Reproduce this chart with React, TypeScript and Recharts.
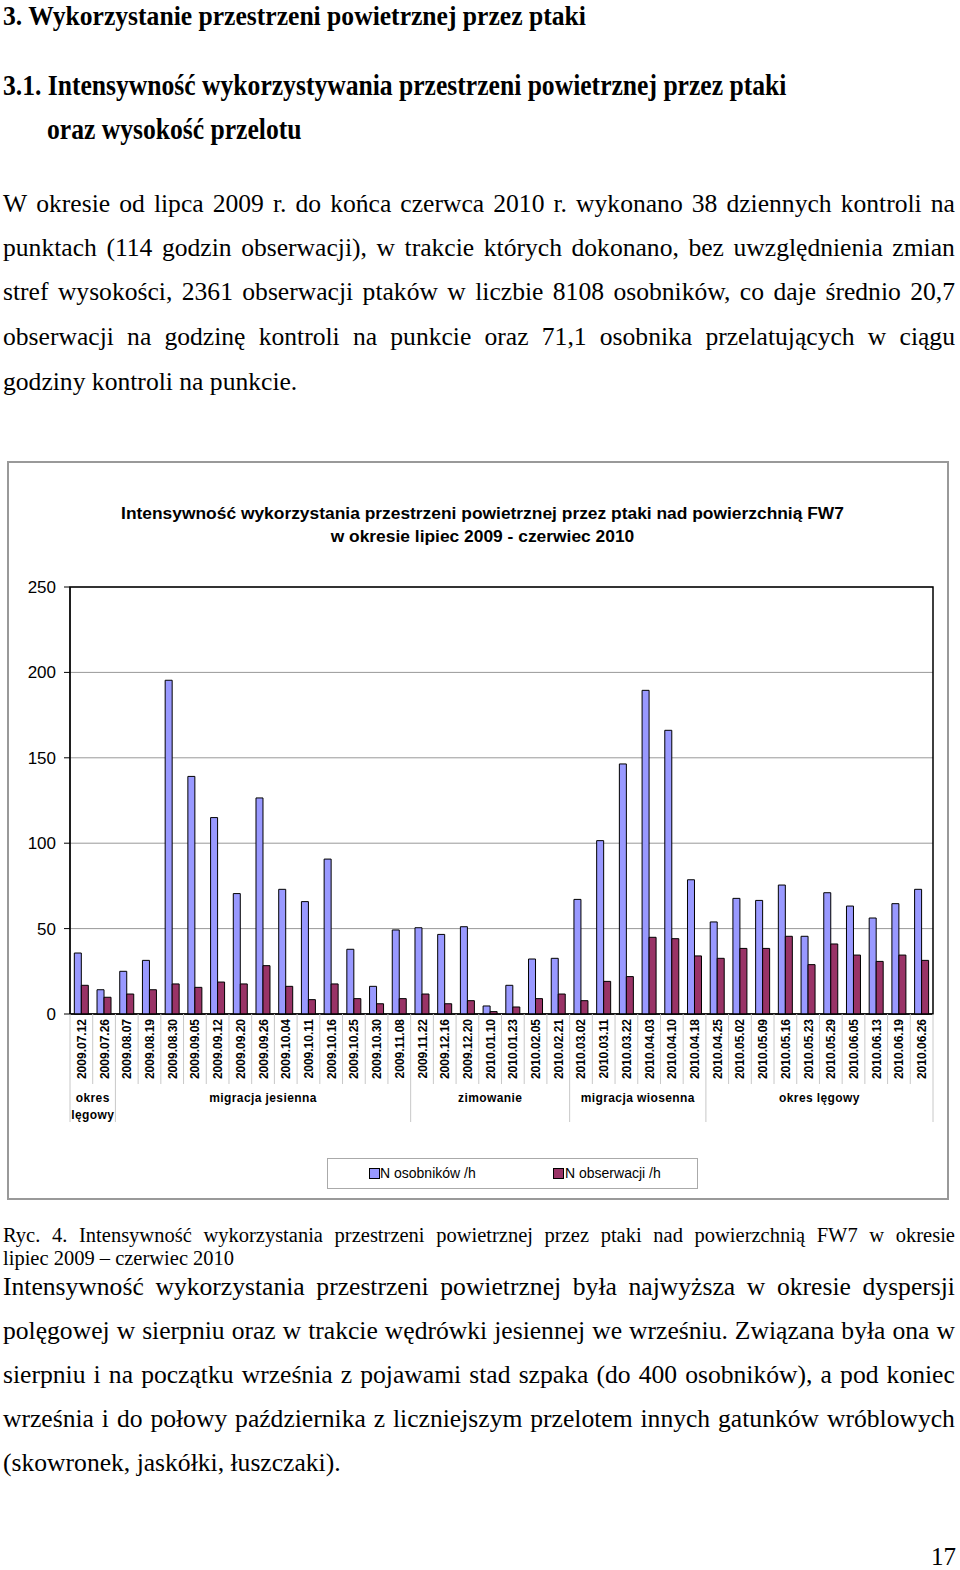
import { BarChart, Bar, XAxis, YAxis, CartesianGrid, ReferenceArea } from "recharts";

// kontrole (daty)
const dates = [
    "2009.07.12", "2009.07.26", "2009.08.07", "2009.08.19", "2009.08.30",
    "2009.09.05", "2009.09.12", "2009.09.20", "2009.09.26", "2009.10.04",
    "2009.10.11", "2009.10.16", "2009.10.25", "2009.10.30", "2009.11.08",
    "2009.11.22", "2009.12.16", "2009.12.20", "2010.01.10", "2010.01.23",
    "2010.02.05", "2010.02.21", "2010.03.02", "2010.03.11", "2010.03.22",
    "2010.04.03", "2010.04.10", "2010.04.18", "2010.04.25", "2010.05.02",
    "2010.05.09", "2010.05.16", "2010.05.23", "2010.05.29", "2010.06.05",
    "2010.06.13", "2010.06.19", "2010.06.26",
];

const osobnikow = [
    35.7, 14.2, 25.0, 31.4, 195.4, 139.1, 115.0, 70.5, 126.5, 73.0,
    65.8, 90.7, 37.9, 16.2, 49.2, 50.5, 46.6, 51.1, 4.7, 16.8,
    32.2, 32.6, 67.1, 101.5, 146.4, 189.5, 166.1, 78.6, 53.9, 67.7,
    66.5, 75.5, 45.5, 71.0, 63.2, 56.2, 64.6, 73.0,
];

const obserwacji = [
    16.8, 9.8, 11.7, 14.2, 17.6, 15.6, 18.7, 17.6, 28.3, 16.2,
    8.4, 17.6, 9.0, 6.0, 9.0, 11.7, 6.0, 7.8, 1.4, 4.1,
    9.0, 11.7, 7.8, 19.1, 21.9, 44.9, 44.1, 34.0, 32.6, 38.4,
    38.4, 45.5, 28.9, 41.0, 34.5, 30.8, 34.5, 31.4,
];

const periods = ["okres lęgowy", "migracja jesienna", "zimowanie", "migracja wiosenna", "okres lęgowy"];
const periodSizes = [2, 13, 7, 6, 10];

const yTicks = [0, 50, 100, 150, 200, 250];

const data = dates.map((d, i) => ({
    date: d,
    osobnikow: osobnikow[i],
    obserwacji: obserwacji[i],
}));

const PLOT_W = 863;
const BAND = PLOT_W / dates.length;
const SANS = "'Liberation Sans', Arial, sans-serif";
const SERIF = "'Liberation Serif', 'Times New Roman', serif";

const groupStarts: number[] = [];
periodSizes.reduce((acc, n) => {
    groupStarts.push(acc);
    return acc + n;
}, 0);

function DateTick(props: any) {
    const { x, y, payload } = props;
    const i = props.index ?? payload.index;
    const left = x - BAND / 2;
    const g = groupStarts.indexOf(i);
    const last = i === dates.length - 1;

    let label = null;
    if (g >= 0) {
        const cx = left + (periodSizes[g] * BAND) / 2;
        const words = periodSizes[g] < 4 ? periods[g].split(" ") : [periods[g]];
        label = words.map((w, k) => (
            <text
                key={k}
                x={cx}
                y={y + 88 + k * 17}
                textAnchor="middle"
                fontFamily={SANS}
                fontWeight="bold"
                fontSize={12}
                letterSpacing={0.4}
                fill="#000"
            >
                {w}
            </text>
        ));
    }

    return (
        <g>
            <line x1={left} y1={y} x2={left} y2={y + (g >= 0 ? 108 : 70)} stroke="#c8c8c8" />
            {last && <line x1={left + BAND} y1={y} x2={left + BAND} y2={y + 108} stroke="#c8c8c8" />}
            <text
                transform={`translate(${x + 4.5},${y + 5}) rotate(-90)`}
                textAnchor="end"
                fontFamily={SANS}
                fontWeight="bold"
                fontSize={12}
                fill="#000"
            >
                {payload.value}
            </text>
            {label}
        </g>
    );
}

function Words({ text, top, size, bold = false, left = 3, width = 952 }: any) {
    return (
        <div
            style={{
                position: "absolute",
                left,
                top,
                width,
                height: 30,
                lineHeight: "30px",
                fontSize: size,
                fontWeight: bold ? "bold" : "normal",
                display: "flex",
                justifyContent: "space-between",
                whiteSpace: "nowrap",
            }}
        >
            {text.split(" ").map((w: string, k: number) => (
                <span key={k}>{w}</span>
            ))}
        </div>
    );
}

function Plain({ text, top, size, bold = false, left = 3, stretch = 1, lh = 30, origin = "center" }: any) {
    return (
        <div
            style={{
                position: "absolute",
                left,
                top,
                height: lh,
                lineHeight: `${lh}px`,
                fontSize: size,
                fontWeight: bold ? "bold" : "normal",
                whiteSpace: "nowrap",
                transform: stretch !== 1 ? `scaleY(${stretch})` : undefined,
                transformOrigin: origin,
            }}
        >
            {text}
        </div>
    );
}

export default function App() {
    return (
        <div
            style={{
                position: "absolute",
                left: 0,
                top: 0,
                width: 960,
                height: 1570,
                background: "#fff",
                color: "#000",
                fontFamily: SERIF,
                overflow: "hidden",
            }}
        >
            <Plain text="3. Wykorzystanie przestrzeni powietrznej przez ptaki" top={1} lh={28} size={25.6} bold stretch={1.1} origin="top" />
            <Plain text="3.1. Intensywność wykorzystywania przestrzeni powietrznej przez ptaki" top={71} size={25.6} bold stretch={1.12} />
            <Plain text="oraz wysokość przelotu" top={115} size={25.6} bold left={47} stretch={1.12} />

            <Words top={189} size={25.6} text="W okresie od lipca 2009 r. do końca czerwca 2010 r. wykonano 38 dziennych kontroli na" />
            <Words top={233} size={25.6} text="punktach (114 godzin obserwacji), w trakcie których dokonano, bez uwzględnienia zmian" />
            <Words top={277} size={25.6} text="stref wysokości, 2361 obserwacji ptaków w liczbie 8108 osobników, co daje średnio 20,7" />
            <Words top={322} size={25.6} text="obserwacji na godzinę kontroli na punkcie oraz 71,1 osobnika przelatujących w ciągu" />
            <Plain top={367} size={25.6} text="godziny kontroli na punkcie." />

            {/* ramka wykresu */}
            <div
                style={{
                    position: "absolute",
                    left: 7,
                    top: 461,
                    width: 942,
                    height: 739,
                    border: "2px solid #999",
                    boxSizing: "border-box",
                }}
            />
            <div
                style={{
                    position: "absolute",
                    left: 0,
                    top: 502,
                    width: 965,
                    textAlign: "center",
                    fontFamily: SANS,
                    fontWeight: "bold",
                    fontSize: 17.4,
                    lineHeight: "23px",
                }}
            >
                Intensywność wykorzystania przestrzeni powietrznej przez ptaki nad powierzchnią FW7
                <br />
                w okresie lipiec 2009 - czerwiec 2010
            </div>

            <div style={{ position: "absolute", left: 0, top: 450 }}>
                <BarChart
                    width={960}
                    height={700}
                    data={data}
                    margin={{ top: 137, right: 27, left: 20, bottom: 26 }}
                    barCategoryGap="19%"
                    barGap={0}
                >
                    <CartesianGrid vertical={false} stroke="#999" />
                    <XAxis
                        dataKey="date"
                        interval={0}
                        height={110}
                        tickSize={0}
                        tickMargin={0}
                        tickLine={false}
                        axisLine={{ stroke: "#000" }}
                        tick={<DateTick />}
                    />
                    <YAxis
                        width={50}
                        domain={[0, 250]}
                        ticks={yTicks}
                        tickSize={6}
                        tickMargin={8}
                        axisLine={{ stroke: "#000" }}
                        tickLine={{ stroke: "#000" }}
                        tick={{ fill: "#000", fontSize: 17, fontFamily: SANS }}
                    />
                    <ReferenceArea y1={0} y2={250} fill="none" stroke="#000" strokeWidth={1.5} ifOverflow="visible" />
                    <Bar dataKey="osobnikow" name="N osobników /h" fill="#9999FF" stroke="#000" strokeWidth={1} isAnimationActive={false} />
                    <Bar dataKey="obserwacji" name="N obserwacji /h" fill="#993366" stroke="#000" strokeWidth={1} isAnimationActive={false} />
                </BarChart>
            </div>

            {/* legenda */}
            <div
                style={{
                    position: "absolute",
                    left: 327,
                    top: 1158,
                    width: 371,
                    height: 31,
                    border: "1px solid #aaa",
                    boxSizing: "border-box",
                    fontFamily: SANS,
                    fontSize: 14,
                    lineHeight: "29px",
                }}
            >
                <span style={{ position: "absolute", left: 41, top: 9, width: 9, height: 9, background: "#9999FF", border: "1px solid #000" }} />
                <span style={{ position: "absolute", left: 52 }}>N osobników /h</span>
                <span style={{ position: "absolute", left: 225, top: 9, width: 9, height: 9, background: "#993366", border: "1px solid #000" }} />
                <span style={{ position: "absolute", left: 237 }}>N obserwacji /h</span>
            </div>

            <Words top={1220} size={20.5} text="Ryc. 4. Intensywność wykorzystania przestrzeni powietrznej przez ptaki nad powierzchnią FW7 w okresie" />
            <Plain top={1243} size={20.5} text="lipiec 2009 – czerwiec 2010" />

            <Words top={1272} size={25.6} text="Intensywność wykorzystania przestrzeni powietrznej była najwyższa w okresie dyspersji" />
            <Words top={1316} size={25.6} text="polęgowej w sierpniu oraz w trakcie wędrówki jesiennej we wrześniu. Związana była ona w" />
            <Words top={1360} size={25.6} text="sierpniu i na początku września z pojawami stad szpaka (do 400 osobników), a pod koniec" />
            <Words top={1404} size={25.6} text="września i do połowy października z liczniejszym przelotem innych gatunków wróblowych" />
            <Plain top={1448} size={25.6} text="(skowronek, jaskółki, łuszczaki)." />

            <Plain top={1542} size={25} text="17" left={931} />
        </div>
    );
}
